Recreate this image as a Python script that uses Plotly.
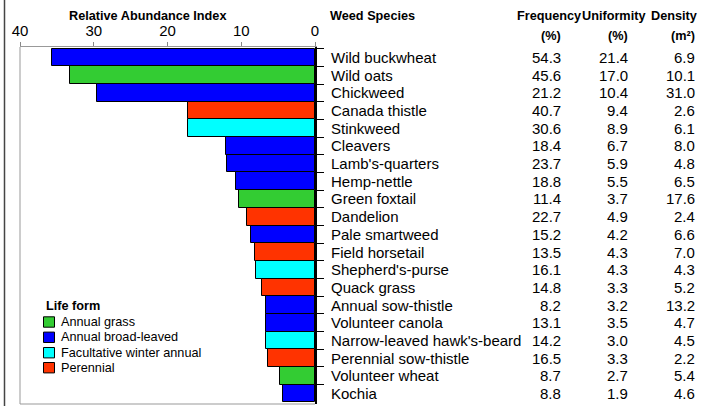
import plotly.graph_objects as go

species = ["Wild buckwheat", "Wild oats", "Chickweed", "Canada thistle", "Stinkweed",
           "Cleavers", "Lamb's-quarters", "Hemp-nettle", "Green foxtail", "Dandelion",
           "Pale smartweed", "Field horsetail", "Shepherd's-purse", "Quack grass",
           "Annual sow-thistle", "Volunteer canola", "Narrow-leaved hawk's-beard",
           "Perennial sow-thistle", "Volunteer wheat", "Kochia"]
abundance = [35.6, 33.2, 29.5, 17.2, 17.2, 12.1, 11.9, 10.7, 10.3, 9.2,
             8.7, 8.1, 8.0, 7.2, 6.7, 6.7, 6.6, 6.4, 4.8, 4.3]
life_form = ["Annual broad-leaved", "Annual grass", "Annual broad-leaved", "Perennial",
             "Facultative winter annual", "Annual broad-leaved", "Annual broad-leaved",
             "Annual broad-leaved", "Annual grass", "Perennial", "Annual broad-leaved",
             "Perennial", "Facultative winter annual", "Perennial", "Annual broad-leaved",
             "Annual broad-leaved", "Facultative winter annual", "Perennial",
             "Annual grass", "Annual broad-leaved"]
frequency = [54.3, 45.6, 21.2, 40.7, 30.6, 18.4, 23.7, 18.8, 11.4, 22.7,
             15.2, 13.5, 16.1, 14.8, 8.2, 13.1, 14.2, 16.5, 8.7, 8.8]
uniformity = [21.4, 17.0, 10.4, 9.4, 8.9, 6.7, 5.9, 5.5, 3.7, 4.9,
              4.2, 4.3, 4.3, 3.3, 3.2, 3.5, 3.0, 3.3, 2.7, 1.9]
density = [6.9, 10.1, 31.0, 2.6, 6.1, 8.0, 4.8, 6.5, 17.6, 2.4,
           6.6, 7.0, 4.3, 5.2, 13.2, 4.7, 4.5, 2.2, 5.4, 4.6]
life_forms = ["Annual grass", "Annual broad-leaved", "Facultative winter annual", "Perennial"]
form_colors = {"Annual grass": "#33CC33", "Annual broad-leaved": "#0000FF",
               "Facultative winter annual": "#00FFFF", "Perennial": "#FF3300"}
x_ticks = [40, 30, 20, 10, 0]

FONT = "Arial, Liberation Sans, sans-serif"
W, H = 706, 406
PL, PR, PT, PB = 20, 315, 47, 404  # plot area in pixels


def px2x(px):
    return (px - PL) / (PR - PL)


def px2y(py):
    return 1 - (py - PT) / (PB - PT)


fig = go.Figure()
fig.add_trace(go.Bar(
    x=abundance, y=species, orientation="h",
    marker=dict(color=[form_colors[f] for f in life_form],
                line=dict(color="black", width=1)),
    showlegend=False, hoverinfo="skip",
))

annotations = []
# species names
for sp in species:
    annotations.append(dict(x=px2x(328.5), xref="paper", y=sp, yref="y", text=sp,
                            showarrow=False, xanchor="left", yanchor="middle",
                            font=dict(size=15, color="black")))
# data columns
for col, right_px in ((frequency, 563), (uniformity, 630), (density, 697)):
    for sp, v in zip(species, col):
        annotations.append(dict(x=px2x(right_px), xref="paper", y=sp, yref="y",
                                text=f"{v:.1f}", showarrow=False, xanchor="right",
                                yanchor="middle", font=dict(size=15, color="black")))

# headers
hdr_font = dict(size=12.7, color="black", family=FONT)
hdrs = [
    dict(x=px2x(147.5), y=px2y(16), text="<b>Relative Abundance Index</b>", xanchor="center"),
    dict(x=px2x(327.5), y=px2y(16), text="<b>Weed Species</b>", xanchor="left"),
    dict(x=px2x(549), y=px2y(16), text="<b>Frequency</b>", xanchor="center"),
    dict(x=px2x(614), y=px2y(16), text="<b>Uniformity</b>", xanchor="center"),
    dict(x=px2x(674), y=px2y(16), text="<b>Density</b>", xanchor="center"),
    dict(x=px2x(563), y=px2y(35.5), text="<b>(%)</b>", xanchor="right"),
    dict(x=px2x(630), y=px2y(35.5), text="<b>(%)</b>", xanchor="right"),
    dict(x=px2x(697), y=px2y(35.5), text="<b>(m²)</b>", xanchor="right"),
]
for a in hdrs:
    a.update(xref="paper", yref="paper", showarrow=False, yanchor="middle", font=hdr_font)
annotations += hdrs

# manual legend
annotations.append(dict(x=px2x(44), y=px2y(306), xref="paper", yref="paper",
                        text="<b>Life form</b>", showarrow=False, xanchor="left",
                        yanchor="middle", font=hdr_font))
shapes = []
legend_rows = [322, 337.3, 352.7, 367.7]
for lf, cy in zip(life_forms, legend_rows):
    shapes.append(dict(type="rect", xref="paper", yref="paper",
                       x0=px2x(43.5), x1=px2x(54.5), y0=px2y(cy - 5.2), y1=px2y(cy + 5.2),
                       fillcolor=form_colors[lf], line=dict(color="black", width=1)))
    annotations.append(dict(x=px2x(59), y=px2y(cy), xref="paper", yref="paper",
                            text=lf, showarrow=False, xanchor="left", yanchor="middle",
                            font=dict(size=12.7, color="black", family=FONT)))

# frame lines
shapes += [
    dict(type="line", xref="paper", yref="paper", x0=0, x1=0, y0=0, y1=1,
         line=dict(color="#999999", width=1)),
    dict(type="line", xref="paper", yref="paper", x0=0, x1=1, y0=0, y1=0,
         line=dict(color="#999999", width=1)),
    dict(type="line", xref="paper", yref="paper", x0=px2x(4.5), x1=px2x(4.5),
         y0=px2y(0), y1=px2y(406), line=dict(color="#444444", width=1.5), layer="above"),
]

fig.update_layout(
    width=W, height=H,
    margin=dict(l=PL, r=W - PR, t=PT, b=H - PB, pad=0, autoexpand=False),
    paper_bgcolor="white", plot_bgcolor="white",
    font=dict(family=FONT, size=15, color="black"),
    bargap=0,
    annotations=annotations,
    shapes=shapes,
    xaxis=dict(range=[40, 0], side="top", tickvals=x_ticks, ticktext=[str(t) for t in x_ticks],
               ticks="outside", ticklen=4, tickcolor="#888888", showline=True,
               linecolor="#999999", linewidth=1, showgrid=False, zeroline=False,
               tickfont=dict(size=15), fixedrange=True, automargin=False),
    yaxis=dict(categoryorder="array", categoryarray=species, autorange="reversed",
               side="right", showline=True, linecolor="black", linewidth=1.5,
               ticks="outside", ticklen=7, tickcolor="black", tickson="boundaries",
               showticklabels=False, showgrid=False, zeroline=False,
               fixedrange=True, automargin=False),
)

fig.write_html("out.html", config={"displayModeBar": False},
               post_script="document.body.style.margin='0';document.body.style.overflow='hidden';")
